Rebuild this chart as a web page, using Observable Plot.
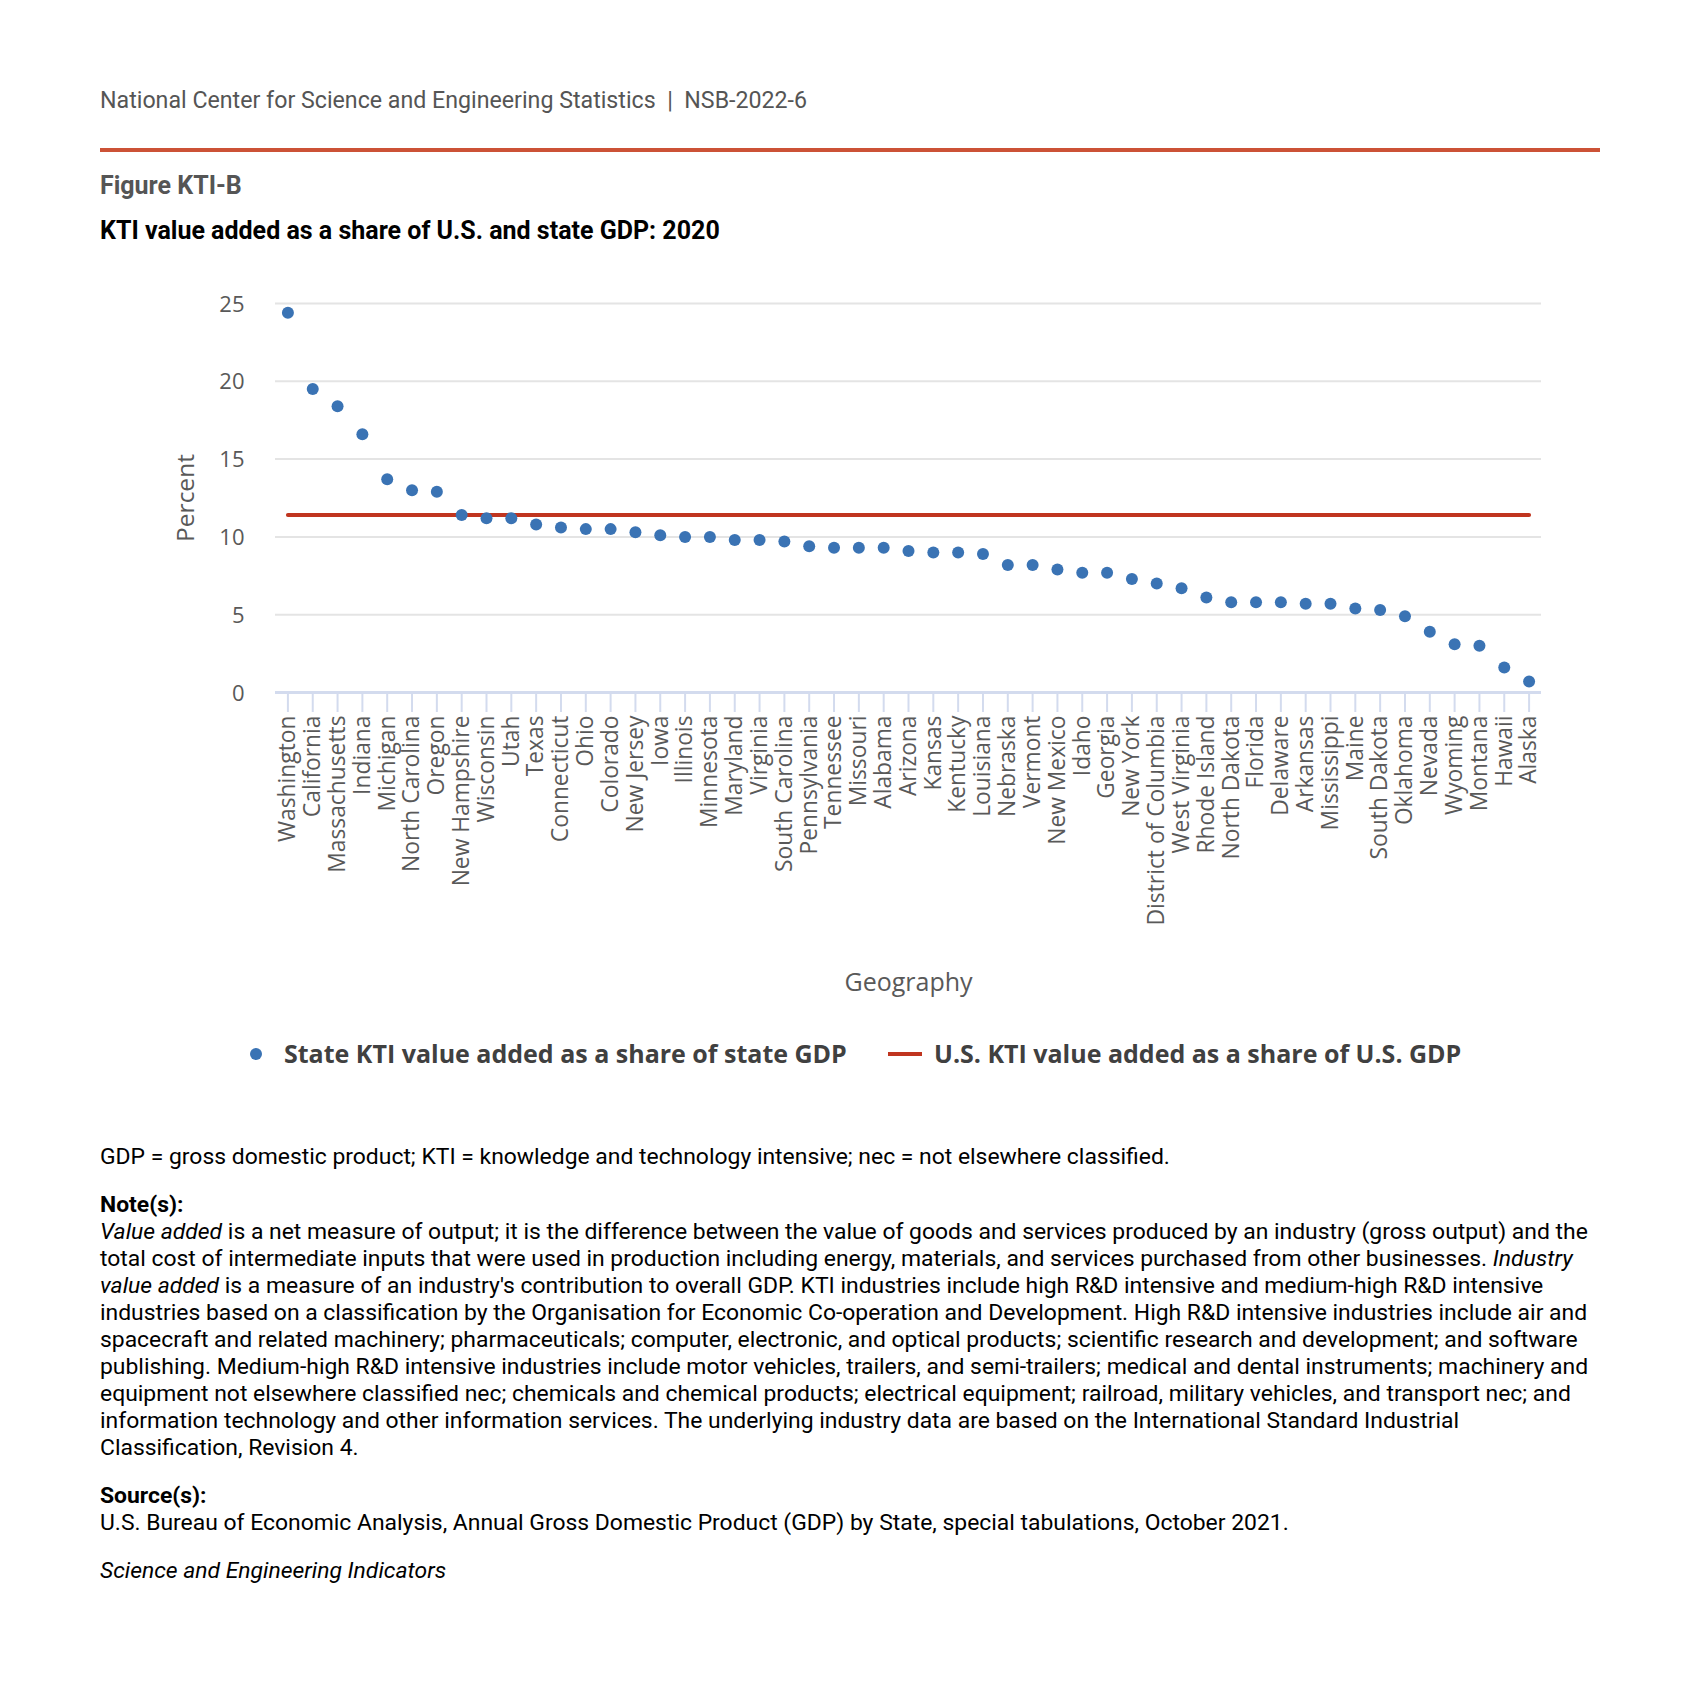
<!DOCTYPE html>
<html>
<head>
<meta charset="utf-8">
<script src="https://cdn.jsdelivr.net/npm/d3@7"></script>
<script src="https://cdn.jsdelivr.net/npm/@observablehq/plot@0.6"></script>
<style>
  html, body { margin: 0; padding: 0; background: #fff; }
  #page { position: relative; width: 1699px; height: 1692px; background: #fff; overflow: hidden; }
  .t { position: absolute; left: 100px; white-space: nowrap; font-family: Roboto, sans-serif; line-height: 1; }
  #header { top: 89px; font-size: 23.2px; color: #555; }
  #rule { position: absolute; left: 100px; top: 148px; width: 1500px; height: 3.5px; background: #cc5236; }
  #fig { top: 173px; font-size: 25px; font-weight: bold; color: #555; }
  #title { top: 218px; font-size: 25px; font-weight: bold; color: #000; }
  #chart { position: absolute; left: 0; top: 260px; }
  #legend { position: absolute; top: 1041px; left: 0; width: 1699px; height: 26px; font-family: "Open Sans", sans-serif; font-weight: bold; font-size: 25px; line-height: 1; color: #404040; }
  #legend .item { position: absolute; top: 0; white-space: nowrap; }
  #legend svg { position: absolute; }
  .foot { font-size: 22.9px; color: #000; }
  #gdp { top: 1146px; }
  #notes-h { top: 1194px; font-weight: bold; }
  #notes { top: 1218px; line-height: 27px; }
  #src-h { top: 1485px; font-weight: bold; }
  #src { top: 1512px; }
  #sei { top: 1560px; font-style: italic; }
</style>
</head>
<body>
<div id="page">
  <div class="t" id="header">National Center for Science and Engineering Statistics &nbsp;|&nbsp; NSB-2022-6</div>
  <div id="rule"></div>
  <div class="t" id="fig">Figure KTI-B</div>
  <div class="t" id="title">KTI value added as a share of U.S. and state GDP: 2020</div>
  <div id="chart"></div>
  <div id="legend"></div>
  <div class="t foot" id="gdp">GDP = gross domestic product; KTI = knowledge and technology intensive; nec = not elsewhere classified.</div>
  <div class="t foot" id="notes-h">Note(s):</div>
  <div class="t foot" id="notes"><i>Value added</i> is a net measure of output; it is the difference between the value of goods and services produced by an industry (gross output) and the<br>total cost of intermediate inputs that were used in production including energy, materials, and services purchased from other businesses. <i>Industry</i><br><i>value added</i> is a measure of an industry's contribution to overall GDP. KTI industries include high R&amp;D intensive and medium-high R&amp;D intensive<br>industries based on a classification by the Organisation for Economic Co-operation and Development. High R&amp;D intensive industries include air and<br>spacecraft and related machinery; pharmaceuticals; computer, electronic, and optical products; scientific research and development; and software<br>publishing. Medium-high R&amp;D intensive industries include motor vehicles, trailers, and semi-trailers; medical and dental instruments; machinery and<br>equipment not elsewhere classified nec; chemicals and chemical products; electrical equipment; railroad, military vehicles, and transport nec; and<br>information technology and other information services. The underlying industry data are based on the International Standard Industrial<br>Classification, Revision 4.</div>
  <div class="t foot" id="src-h">Source(s):</div>
  <div class="t foot" id="src">U.S. Bureau of Economic Analysis, Annual Gross Domestic Product (GDP) by State, special tabulations, October 2021.</div>
  <div class="t foot" id="sei">Science and Engineering Indicators</div>
</div>
<script>
// ---- Data ----
const states = [
  "Washington", "California", "Massachusetts", "Indiana", "Michigan", "North Carolina", "Oregon",
  "New Hampshire", "Wisconsin", "Utah", "Texas", "Connecticut", "Ohio", "Colorado", "New Jersey",
  "Iowa", "Illinois", "Minnesota", "Maryland", "Virginia", "South Carolina", "Pennsylvania",
  "Tennessee", "Missouri", "Alabama", "Arizona", "Kansas", "Kentucky", "Louisiana", "Nebraska",
  "Vermont", "New Mexico", "Idaho", "Georgia", "New York", "District of Columbia", "West Virginia",
  "Rhode Island", "North Dakota", "Florida", "Delaware", "Arkansas", "Mississippi", "Maine",
  "South Dakota", "Oklahoma", "Nevada", "Wyoming", "Montana", "Hawaii", "Alaska"
];
const stateShare = [
  24.4, 19.5, 18.4, 16.6, 13.7, 13.0, 12.9,
  11.4, 11.2, 11.2, 10.8, 10.6, 10.5, 10.5, 10.3,
  10.1, 10.0, 10.0, 9.8, 9.8, 9.7, 9.4,
  9.3, 9.3, 9.3, 9.1, 9.0, 9.0, 8.9, 8.2,
  8.2, 7.9, 7.7, 7.7, 7.3, 7.0, 6.7,
  6.1, 5.8, 5.8, 5.8, 5.7, 5.7, 5.4,
  5.3, 4.9, 3.9, 3.1, 3.0, 1.6, 0.7
];
const usShare = 11.4;
const yTicks = [0, 5, 10, 15, 20, 25];
const seriesNames = ["State KTI value added as a share of state GDP", "U.S. KTI value added as a share of U.S. GDP"];
const colors = ["#3a73b4", "#c0351f"];

const rows = states.map((s, i) => ({state: s, value: stateShare[i]}));

const chart = Plot.plot({
  width: 1699,
  height: 750,
  marginLeft: 275,
  marginRight: 158,
  marginTop: 43,
  marginBottom: 318,
  style: {fontFamily: "'Open Sans', sans-serif", fontSize: "22px", color: "#595959", background: "#fff"},
  x: {type: "point", domain: states, padding: 0.5},
  y: {domain: [0, 25]},
  marks: [
    Plot.gridY(yTicks.filter(t => t > 0), {stroke: "#e4e4e4", strokeOpacity: 1, strokeWidth: 2}),
    Plot.axisX({tickRotate: -90, tickSize: 20, tickPadding: 3, stroke: "#d3dbee", strokeWidth: 2, strokeOpacity: 1, fill: "#595959", fontSize: 22.8, label: null}),
    Plot.ruleY([0], {stroke: "#d3dbee", strokeWidth: 3}),
    Plot.axisY(yTicks, {tickSize: 0, tickPadding: 31, dy: 1, fill: "#595959", fontSize: 22, label: null}),
    Plot.line(states, {x: d => d, y: () => usShare, stroke: colors[1], strokeWidth: 4}),
    Plot.dot(rows, {x: "state", y: "value", r: 6, fill: colors[0]}),
    Plot.text(["Percent"], {frameAnchor: "left", textAnchor: "middle", dx: -89, rotate: -90, fontSize: 24.5, fill: "#595959"}),
    Plot.text(["Geography"], {frameAnchor: "bottom", dy: 298, fontSize: 25, fill: "#595959"})
  ]
});
document.getElementById("chart").appendChild(chart);

// ---- Legend ----
const legend = d3.select("#legend");
const l1 = legend.append("svg").attr("width", 20).attr("height", 26).style("left", "246px").style("top", "0px");
l1.append("circle").attr("cx", 10).attr("cy", 13).attr("r", 6).attr("fill", colors[0]);
legend.append("div").attr("class", "item").style("left", "284px").text(seriesNames[0]);
const l2 = legend.append("svg").attr("width", 36).attr("height", 26).style("left", "887px").style("top", "0px");
l2.append("line").attr("x1", 1).attr("x2", 35).attr("y1", 13).attr("y2", 13).attr("stroke", colors[1]).attr("stroke-width", 4);
legend.append("div").attr("class", "item").style("left", "934px").text(seriesNames[1]);
</script>
</body>
</html>
